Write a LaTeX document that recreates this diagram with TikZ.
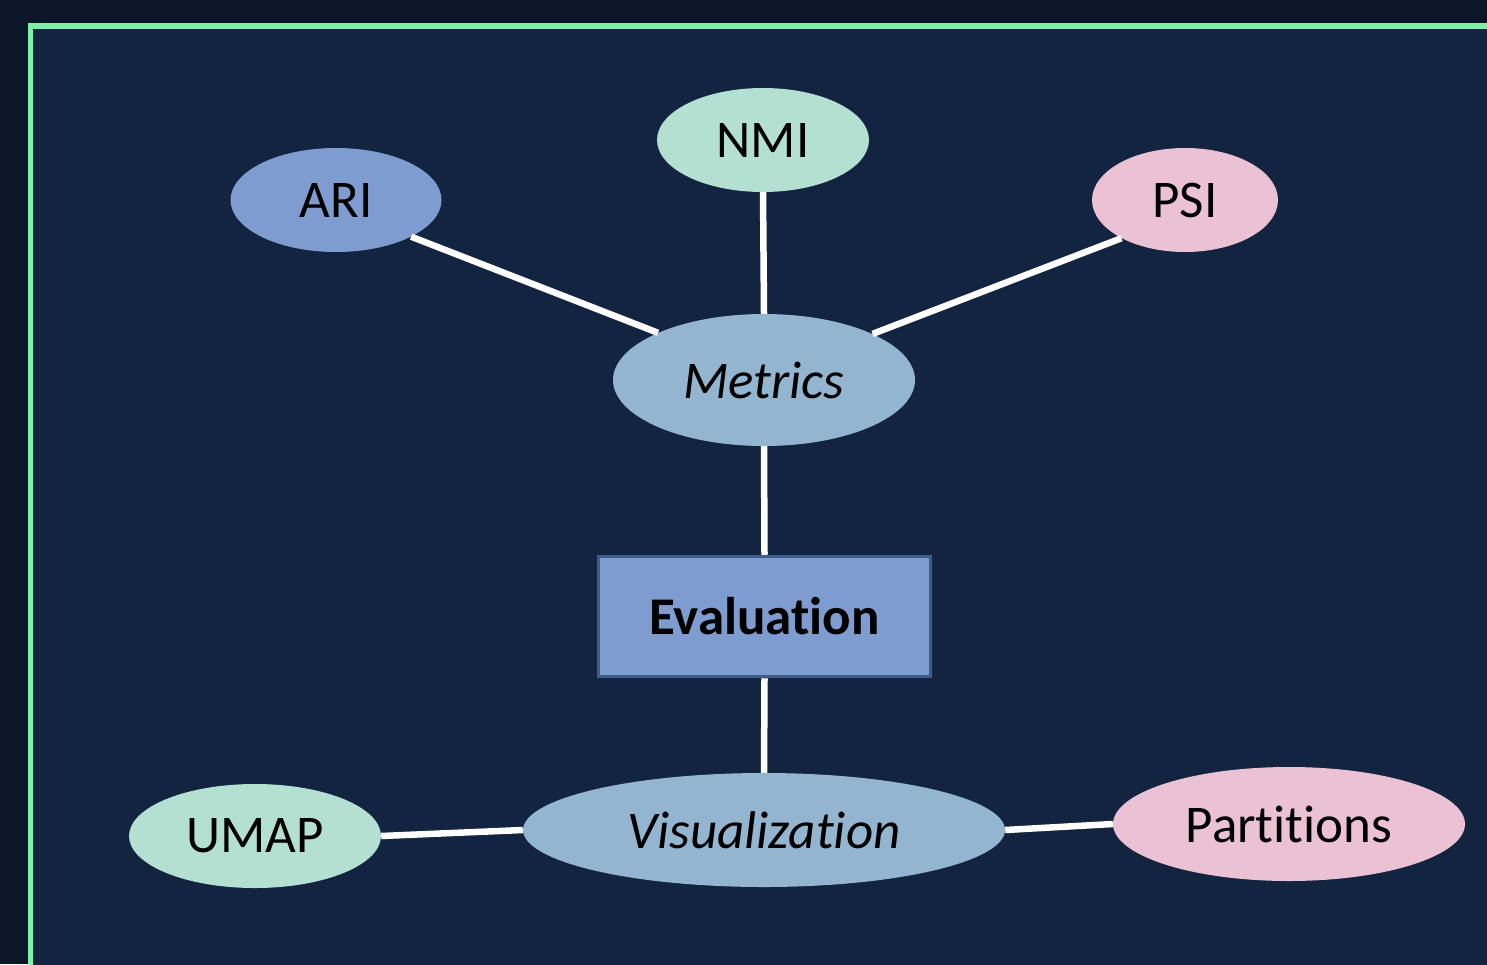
\documentclass[tikz,border=0pt]{standalone}
\usepackage{fontspec}
\setmainfont{Carlito}[Ligatures=NoCommon]
\usetikzlibrary{shapes.geometric}
\definecolor{outerbg}{RGB}{11,22,40}
\definecolor{innerbg}{RGB}{18,36,63}
\definecolor{framegreen}{RGB}{125,240,168}
\definecolor{blueA}{RGB}{127,156,208}
\definecolor{mint}{RGB}{180,224,210}
\definecolor{pinkA}{RGB}{235,194,211}
\definecolor{steel}{RGB}{148,181,208}
\definecolor{boxedge}{RGB}{62,92,140}
\tikzset{
  every node/.style={font=\fontsize{53}{56}\selectfont, text=black},
  oval/.style={ellipse, inner sep=0pt},
  link/.style={draw=white, line width=6.5pt},
}
\begin{document}
\begin{tikzpicture}[x=1pt,y=-1pt]
\useasboundingbox (0,0) rectangle (1487,964);
\clip (0,0) rectangle (1487,964);
\fill[outerbg] (0,0) rectangle (1487,964);
\draw[framegreen, line width=5.5pt, fill=innerbg] (30.5,26) rectangle (1520,1000);

\node[oval, fill=blueA, minimum width=211pt, minimum height=104pt] (ari) at (336,200) {ARI};
\node[oval, fill=mint, minimum width=212pt, minimum height=104pt] (nmi) at (763,140) {NMI};
\node[oval, fill=pinkA, minimum width=186pt, minimum height=104pt] (psi) at (1185,200) {PSI};
\node[oval, fill=steel, minimum width=302pt, minimum height=132pt] (metrics) at (764,380) {\itshape Metrics};
\node[draw=boxedge, line width=3.5pt, fill=blueA, minimum width=332pt, minimum height=120pt, inner sep=0pt] (eval) at (764.5,616.5) {\bfseries Evaluation};
\node[oval, fill=steel, minimum width=482pt, minimum height=114pt] (vis) at (764,830) {\itshape Visualization};
\node[oval, fill=mint, minimum width=252pt, minimum height=104pt] (umap) at (255,836) {UMAP};
\node[oval, fill=pinkA, minimum width=352pt, minimum height=114pt] (part) at (1289,824) {Partitions};

\draw[link] (ari.-26.6) -- (metrics.156.3);
\draw[link] (nmi.south) -- (metrics.north);
\draw[link] (psi.-149.7) -- (metrics.23.5);
\draw[link] (metrics.south) -- (eval.north);
\draw[link] (eval.south) -- (vis.north);
\draw[link] (umap.east) -- (vis.west);
\draw[link] (vis.east) -- (part.west);
\end{tikzpicture}
\end{document}
